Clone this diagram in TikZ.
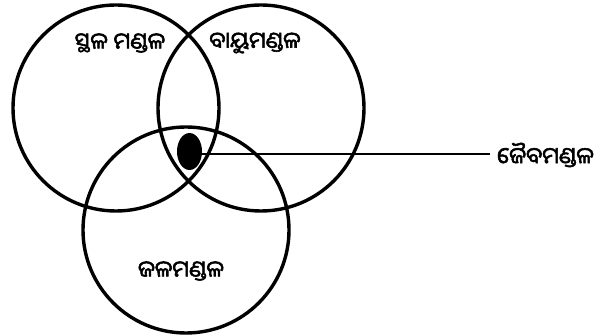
\documentclass[tikz,border=0pt]{standalone}
\usepackage{fontspec}
\usetikzlibrary{shapes.geometric}
\newfontfamily\oriya[Script=Oriya,FakeBold=2.5]{Noto Sans Oriya UI}
\begin{document}
\begin{tikzpicture}[x=1pt,y=-1pt,
  ring/.style={draw=black,line width=3.4pt},
  lbl/.style={font=\oriya\fontsize{22.5}{24}\selectfont,inner sep=0pt}]
\useasboundingbox (0,0) rectangle (610,336);
\draw[ring] (116,108) circle[radius=103];
\draw[ring] (261,108) circle[radius=103];
\draw[ring] (186,230) circle[radius=103];
\node[fill=black,ellipse,minimum width=25pt,minimum height=37pt,inner sep=0pt] (bio) at (189.5,151.5) {};
\coordinate (lend) at (490,154);
\draw[line width=2.8pt] (bio.east |- lend) -- (lend);
\node[lbl,anchor=west] (jaiba) at (497,155) {ଜୈବମଣ୍ଡଳ};
\node[lbl] (sthala) at (120,43) {ସ୍ଥଳ ମଣ୍ଡଳ};
\node[lbl] (bayu) at (255,43) {ବାୟୁମଣ୍ଡଳ};
\node[lbl] (jala) at (181,271) {ଜଳମଣ୍ଡଳ};
\end{tikzpicture}
\end{document}
